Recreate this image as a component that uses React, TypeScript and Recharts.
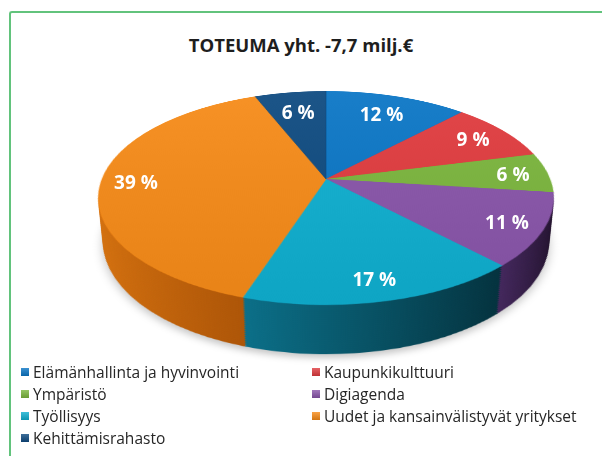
import React from 'react';
import { PieChart, Pie, Cell } from 'recharts';

// ---------- data ----------
const categories = [
  'Elämänhallinta ja hyvinvointi',
  'Kaupunkikulttuuri',
  'Ympäristö',
  'Digiagenda',
  'Työllisyys',
  'Uudet ja kansainvälistyvät yritykset',
  'Kehittämisrahasto',
];
const shares = [12, 9, 6, 11, 17, 39, 6];
const titleText = 'TOTEUMA yht. -7,7 milj.€';

// ---------- styles ----------
const topColors = ['#0a76c6', '#e03b3e', '#7bb63d', '#8955aa', '#0fafd0', '#f78b18', '#0e4a80'];
const sideFrom = ['#08548f', '#a8262a', '#5a8a28', '#43275c', '#0b6f88', '#d6720f', '#0a3460'];
const sideTo = ['#063a66', '#7a1a1d', '#3e611b', '#1f1029', '#04323e', '#aa5307', '#08223e'];
const sideX1 = [0, 0, 0, 379, 157, 0, 0];
const sideX2 = [452, 452, 452, 452, 379, 170, 452];

const pieData = categories.map((name, i) => ({ name, value: shares[i] }));

const R = 224;
const TILT = 62.5;
const PERSP = 1121;
const CX = 326;
const CY = 179;
const DEPTH = 50;
const STEP = 2;
const C = Math.cos((TILT * Math.PI) / 180);
const S = Math.sin((TILT * Math.PI) / 180);
const SIZE = 2 * R + 4;
const HC = SIZE / 2;
const FONT = '"Open Sans", "Noto Sans", sans-serif';

function shade(hex: string, amt: number): string {
  const n = parseInt(hex.slice(1), 16);
  let r = (n >> 16) & 255, g = (n >> 8) & 255, b = n & 255;
  const t = amt < 0 ? 0 : 255;
  const p = Math.abs(amt);
  r = Math.round((t - r) * p + r);
  g = Math.round((t - g) * p + g);
  b = Math.round((t - b) * p + b);
  return '#' + ((1 << 24) + (r << 16) + (g << 8) + b).toString(16).slice(1);
}

function Defs() {
  return (
    <svg width={0} height={0} style={{ position: 'absolute', left: 0, top: 0 }}>
      <defs>
        {topColors.map((c, i) => (
          <linearGradient key={'t' + i} id={'top' + i} gradientUnits="userSpaceOnUse" x1={0} y1={0} x2={0} y2={SIZE}>
            <stop offset="0" stopColor={shade(c, 0.06)} />
            <stop offset="1" stopColor={shade(c, -0.06)} />
          </linearGradient>
        ))}
        {topColors.map((c, i) => (
          <linearGradient key={'s' + i} id={'side' + i} gradientUnits="userSpaceOnUse" x1={sideX1[i]} y1={0} x2={sideX2[i]} y2={0}>
            <stop offset="0" stopColor={sideFrom[i]} />
            <stop offset="1" stopColor={sideTo[i]} />
          </linearGradient>
        ))}
      </defs>
    </svg>
  );
}

function Layer({ k }: { k: number }) {
  const top = k === 0;
  return (
    <div
      style={{
        position: 'absolute',
        left: 0,
        top: 0,
        width: SIZE,
        height: SIZE,
        transform: `translateZ(${-k * STEP}px)`,
      }}
    >
      <PieChart width={SIZE} height={SIZE} margin={{ top: 0, right: 0, bottom: 0, left: 0 }}>
        <Pie
          data={pieData}
          dataKey="value"
          cx={HC}
          cy={HC}
          outerRadius={R}
          startAngle={90}
          endAngle={-270}
          isAnimationActive={false}
          stroke="none"
          labelLine={false}
        >
          {pieData.map((d, i) => (
            <Cell
              key={d.name}
              fill={top ? `url(#top${i})` : `url(#side${i})`}
              stroke={top ? topColors[i] : 'none'}
              strokeWidth={top ? 0.6 : 0}
            />
          ))}
        </Pie>
      </PieChart>
    </div>
  );
}

const renderLabel = (props: any) => {
  const { midAngle, index, cx, cy } = props;
  const rad = (midAngle * Math.PI) / 180;
  const dirX = Math.cos(rad);
  const dirY = -Math.sin(rad);
  const up = Math.max(0, -dirY);
  const frac = 0.845 - 0.1 * up * up;
  const lx = R * frac * dirX;
  const ly = R * frac * dirY;
  const f = PERSP / (PERSP - ly * S);
  const sx = cx + lx * f;
  const sy = cy + ly * C * f;
  return (
    <text
      key={'lbl' + index}
      x={sx}
      y={sy}
      fill="#ffffff"
      textAnchor="middle"
      dominantBaseline="central"
      style={{ fontFamily: FONT, fontSize: 19, fontWeight: 700 }}
    >
      {`${shares[index]} %`}
    </text>
  );
};

export default function App() {
  const layers: number[] = [];
  for (let k = Math.round(DEPTH / STEP); k >= 0; k--) layers.push(k);
  return (
    <div
      style={{
        position: 'absolute',
        left: 0,
        top: 0,
        width: 602,
        height: 456,
        background: '#ffffff',
        overflow: 'hidden',
        fontFamily: FONT,
      }}
    >
      <Defs />
      <div
        style={{
          position: 'absolute',
          left: 9,
          top: 11,
          width: 640,
          height: 500,
          borderTop: '2px solid #62c37c',
          borderLeft: '2px solid #62c37c',
          borderTopLeftRadius: 3,
        }}
      />
      <div
        style={{
          position: 'absolute',
          left: 0,
          top: 32,
          width: 602,
          textAlign: 'center',
          fontSize: 18.5,
          fontWeight: 700,
          lineHeight: '26px',
          color: '#1e1e1e',
        }}
      >
        {titleText}
      </div>

      <div
        style={{
          position: 'absolute',
          left: 0,
          top: 0,
          width: 602,
          height: 456,
          perspective: `${PERSP}px`,
          perspectiveOrigin: `${CX}px ${CY}px`,
        }}
      >
        <div
          style={{
            position: 'absolute',
            left: CX - HC,
            top: CY - HC,
            width: SIZE,
            height: SIZE,
            transformStyle: 'preserve-3d',
            transform: `rotateX(${TILT}deg)`,
          }}
        >
          <div
            style={{
              position: 'absolute',
              left: 2,
              top: 6,
              width: 2 * R,
              height: 2 * R,
              borderRadius: '50%',
              background: 'rgba(0,0,0,0.22)',
              filter: 'blur(5px)',
              transform: `translateZ(${-(DEPTH + 1)}px)`,
            }}
          />
          {layers.map((k) => (
            <Layer key={k} k={k} />
          ))}
        </div>
      </div>

      <div style={{ position: 'absolute', left: 0, top: 0 }}>
        <PieChart width={602} height={456} margin={{ top: 0, right: 0, bottom: 0, left: 0 }}>
          <Pie
            data={pieData}
            dataKey="value"
            cx={CX}
            cy={CY}
            outerRadius={R}
            startAngle={90}
            endAngle={-270}
            isAnimationActive={false}
            fill="none"
            stroke="none"
            labelLine={false}
            label={renderLabel}
          >
            {pieData.map((d) => (
              <Cell key={d.name} fill="transparent" stroke="none" />
            ))}
          </Pie>
        </PieChart>
      </div>

      {categories.map((name, i) => {
        const col = i % 2;
        const row = Math.floor(i / 2);
        return (
          <div
            key={name}
            style={{
              position: 'absolute',
              left: col === 0 ? 21 : 312,
              top: 362 + row * 22,
              height: 20,
              display: 'flex',
              alignItems: 'center',
              fontSize: 15.5,
              color: '#262626',
              whiteSpace: 'nowrap',
            }}
          >
            <span
              style={{
                display: 'inline-block',
                width: 8,
                height: 8,
                marginRight: 4,
                background: `linear-gradient(${shade(topColors[i], 0.2)}, ${shade(topColors[i], -0.15)})`,
              }}
            />
            {name}
          </div>
        );
      })}
    </div>
  );
}
